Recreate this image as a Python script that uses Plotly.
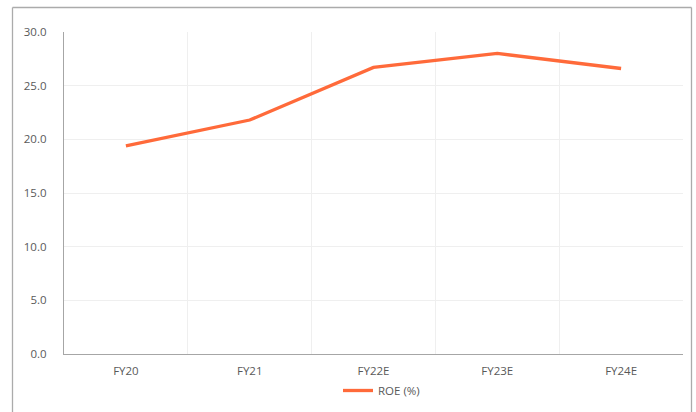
import plotly.graph_objects as go

# ROE by fiscal year (actuals and estimates)
years = ["FY20", "FY21", "FY22E", "FY23E", "FY24E"]
roe = [19.4, 21.8, 26.7, 28.0, 26.6]
y_ticks = [0, 5, 10, 15, 20, 25, 30]
y_tick_labels = ["0.0", "5.0", "10.0", "15.0", "20.0", "25.0", "30.0"]

W, H = 696, 412
L, R, T = 64, 13, 32
LEGEND_PUSH = 7               # bottom margin the legend claims for itself
plot_bottom = 354             # pixel row of the x axis
pw, ph = W - L - R, H - T - LEGEND_PUSH


def px_to_paper_x(px):
    return (px - L) / pw


def px_to_paper_y(py):
    return (H - LEGEND_PUSH - py) / ph


text_color = "#595959"
line_color = "#FF6A3A"
grid_color = "#EFEFEF"
axis_color = "#A6A6A6"

fig = go.Figure()
fig.add_trace(go.Scatter(
    x=years, y=roe, mode="lines", name="ROE (%)",
    line=dict(color=line_color, width=3.3),
))

# outer chart frame (left, top, right edges)
fx0, fx1 = px_to_paper_x(12.5), px_to_paper_x(691.5)
fy_top = px_to_paper_y(7.5)
fy_bot = px_to_paper_y(H + 5)
frame = dict(type="line", xref="paper", yref="paper",
             line=dict(color="#ABABAB", width=1.3))
fig.add_shape(x0=fx0, x1=fx0, y0=fy_bot, y1=fy_top, **frame)
fig.add_shape(x0=fx0, x1=fx1, y0=fy_top, y1=fy_top, **frame)
fig.add_shape(x0=fx1, x1=fx1, y0=fy_bot, y1=fy_top, **frame)

fig.update_layout(
    width=W, height=H,
    margin=dict(l=L, r=R, t=T, b=0),
    paper_bgcolor="white", plot_bgcolor="white",
    font=dict(family="Open Sans", size=11.5, color=text_color),
    showlegend=True,
    legend=dict(orientation="h", x=px_to_paper_x(338), xanchor="left",
                y=0, yanchor="bottom",
                font=dict(size=11.5, color=text_color),
                bgcolor="rgba(0,0,0,0)", borderwidth=0),
    xaxis=dict(
        type="category", range=[-0.5, 4.5],
        tickson="boundaries", showgrid=True, gridcolor=grid_color, gridwidth=1,
        showline=True, linecolor=axis_color, linewidth=1.3,
        ticks="", ticklabelstandoff=6, fixedrange=True,
    ),
    yaxis=dict(
        domain=[px_to_paper_y(plot_bottom), 1],
        range=[0, 30], tickvals=y_ticks, ticktext=y_tick_labels,
        showgrid=True, gridcolor=grid_color, gridwidth=1,
        showline=True, linecolor=axis_color, linewidth=1.3,
        zeroline=False, ticks="", ticklabelstandoff=14, fixedrange=True,
    ),
)

fig.write_html("out.html")
